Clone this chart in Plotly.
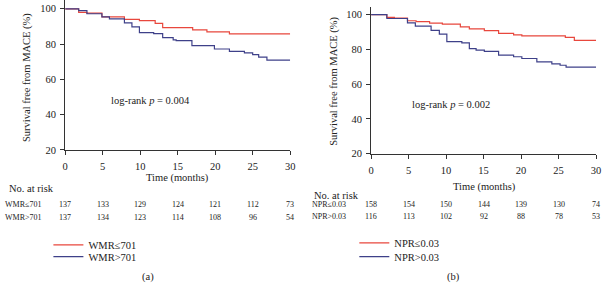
import plotly.graph_objects as go

W, H = 608, 290

# ---- data ----
t_wmr_low = [0, 1.8, 2.9, 4.9, 7.9, 9.9, 12.0, 13.0, 17.0, 18.9, 21.9, 30]
s_wmr_low = [100, 98.0, 97.6, 95.4, 94.0, 93.3, 91.7, 89.3, 88.0, 86.9, 85.8, 85.8]

t_wmr_high = [0, 1.8, 2.9, 4.9, 5.9, 7.9, 8.9, 9.9, 11.8, 13.0, 14.4, 14.8, 16.9, 19.9, 21.9, 23.9, 25.0, 25.8, 26.9, 30]
s_wmr_high = [100, 99.0, 97.2, 95.4, 94.3, 92.0, 89.8, 86.5, 85.9, 83.7, 82.4, 81.9, 79.1, 77.2, 75.9, 75.0, 74.0, 72.6, 70.9, 70.9]

t_npr_low = [0, 2.1, 3.1, 4.85, 6.0, 7.8, 9.5, 11.9, 13.1, 15.1, 17.0, 19.0, 20.1, 25.9, 27.1, 30]
s_npr_low = [100, 98.5, 98.0, 96.5, 96.0, 95.1, 94.6, 93.0, 91.8, 90.8, 89.3, 88.4, 87.8, 86.9, 85.2, 85.2]

t_npr_high = [0, 2.1, 4.85, 5.9, 8.0, 9.1, 10.1, 12.1, 13.1, 14.0, 15.1, 17.0, 19.0, 20.1, 22.1, 24.1, 25.2, 26.0, 30]
s_npr_high = [100, 97.8, 95.3, 93.4, 91.0, 88.8, 84.5, 83.8, 80.5, 79.6, 78.9, 76.7, 75.8, 74.8, 72.8, 71.7, 70.9, 69.8, 69.8]

risk_times = [0, 5, 10, 15, 20, 25, 30]
risk_wmr_low = [137, 133, 129, 124, 121, 112, 73]
risk_wmr_high = [137, 134, 123, 114, 108, 96, 54]
risk_npr_low = [158, 154, 150, 144, 139, 130, 74]
risk_npr_high = [116, 113, 102, 92, 88, 78, 53]

x_ticks = [0, 5, 10, 15, 20, 25, 30]
y_ticks = [20, 40, 60, 80, 100]

RED = "#E8473D"
BLUE = "#3E4089"
FONT = "Liberation Serif, Times New Roman, serif"
TXT = "#222222"
SMALL = 8


def px(x):
    return x / W


def py(y):
    return 1 - y / H


fig = go.Figure()
fig.add_trace(go.Scatter(x=t_wmr_low, y=s_wmr_low, mode="lines", line=dict(color=RED, width=1.2, shape="hv"),
                         name="WMR≤701", xaxis="x", yaxis="y", legend="legend2"))
fig.add_trace(go.Scatter(x=t_wmr_high, y=s_wmr_high, mode="lines", line=dict(color=BLUE, width=1.2, shape="hv"),
                         name="WMR>701", xaxis="x", yaxis="y", legend="legend3"))
fig.add_trace(go.Scatter(x=t_npr_low, y=s_npr_low, mode="lines", line=dict(color=RED, width=1.2, shape="hv"),
                         name="NPR≤0.03", xaxis="x2", yaxis="y2", legend="legend4"))
fig.add_trace(go.Scatter(x=t_npr_high, y=s_npr_high, mode="lines", line=dict(color=BLUE, width=1.2, shape="hv"),
                         name="NPR>0.03", xaxis="x2", yaxis="y2", legend="legend5"))

axis_common = dict(showline=True, linecolor="#333333", linewidth=1, ticks="outside", ticklen=4,
                   tickcolor="#333333", tickwidth=1, showgrid=False, zeroline=False,
                   tickfont=dict(family=FONT, size=10.5, color=TXT))

fig.update_layout(
    width=W, height=H, margin=dict(l=0, r=0, t=0, b=0),
    paper_bgcolor="white", plot_bgcolor="white",
    font=dict(family=FONT, size=10.5, color=TXT),
    showlegend=True,
    xaxis=dict(domain=[px(63), px(291)], range=[0, 30], tickvals=x_ticks, anchor="y",
               ticklabelstandoff=3, **axis_common),
    yaxis=dict(domain=[py(153), py(0)], range=[20, 105], tickvals=y_ticks, anchor="x",
               ticklabelstandoff=2, **axis_common),
    xaxis2=dict(domain=[px(373), px(601)], range=[0, 30], tickvals=x_ticks, anchor="y2",
                ticklabelstandoff=3, **axis_common),
    yaxis2=dict(domain=[py(157), py(7)], range=[20, 104.5], tickvals=y_ticks, anchor="x2",
                ticklabelstandoff=2, **axis_common),
)

leg_common = dict(xanchor="left", yanchor="middle", bgcolor="rgba(0,0,0,0)",
                  font=dict(family=FONT, size=10.5, color=TXT), borderwidth=0)
fig.update_layout(
    legend2=dict(x=px(46), y=py(250), **leg_common),
    legend3=dict(x=px(46), y=py(262), **leg_common),
    legend4=dict(x=px(356), y=py(248), **leg_common),
    legend5=dict(x=px(356), y=py(262), **leg_common),
)

ann = []


def text(x, y, s, size=10.5, xanchor="center", angle=0, xref="paper"):
    ann.append(dict(x=x, y=y, xref=xref, yref="paper", text=s, showarrow=False, xanchor=xanchor,
                    yanchor="middle", textangle=angle, font=dict(family=FONT, size=size, color=TXT)))


# axis titles
text(px(25), py(79), "Survival free from MACE (%)", angle=-90)
text(px(336), py(83), "Survival free from MACE (%)", angle=-90)
text(px(177), py(182), "Time (months)")
text(px(488), py(191), "Time (months)")

# log-rank
text(px(107), py(103), "log-rank <i>p</i> = 0.004", xanchor="left")
text(px(412), py(107), "log-rank <i>p</i> = 0.002", xanchor="left")

# risk table
text(px(4), py(192), "No. at risk", xanchor="left")
text(px(313), py(200), "No. at risk", xanchor="left")
text(px(0), py(209), "WMR≤701", size=SMALL, xanchor="left")
text(px(0), py(222), "WMR>701", size=SMALL, xanchor="left")
text(px(311), py(209), "NPR≤0.03", size=SMALL, xanchor="left")
text(px(311), py(221), "NPR>0.03", size=SMALL, xanchor="left")
for tt, a, b in zip(risk_times, risk_wmr_low, risk_wmr_high):
    text(tt, py(209), str(a), size=SMALL, xref="x")
    text(tt, py(222), str(b), size=SMALL, xref="x")
for tt, a, b in zip(risk_times, risk_npr_low, risk_npr_high):
    text(tt, py(209), str(a), size=SMALL, xref="x2")
    text(tt, py(221), str(b), size=SMALL, xref="x2")

# panel labels
text(px(147), py(283), "(a)")
text(px(457), py(283), "(b)")

fig.update_layout(annotations=ann)
post = (
    "document.documentElement.style.margin='0';"
    "document.documentElement.style.overflow='hidden';"
    "document.documentElement.style.height='290px';"
    "document.body.style.margin='0';"
    "document.body.style.overflow='hidden';"
    "document.body.style.height='290px';"
    "var d=document.getElementById('{plot_id}');"
    "d.parentElement.style.height='290px';"
    "d.parentElement.style.overflow='hidden';"
    "d.style.display='block';"
)
fig.write_html("out.html", config={"displayModeBar": False}, post_script=post)
